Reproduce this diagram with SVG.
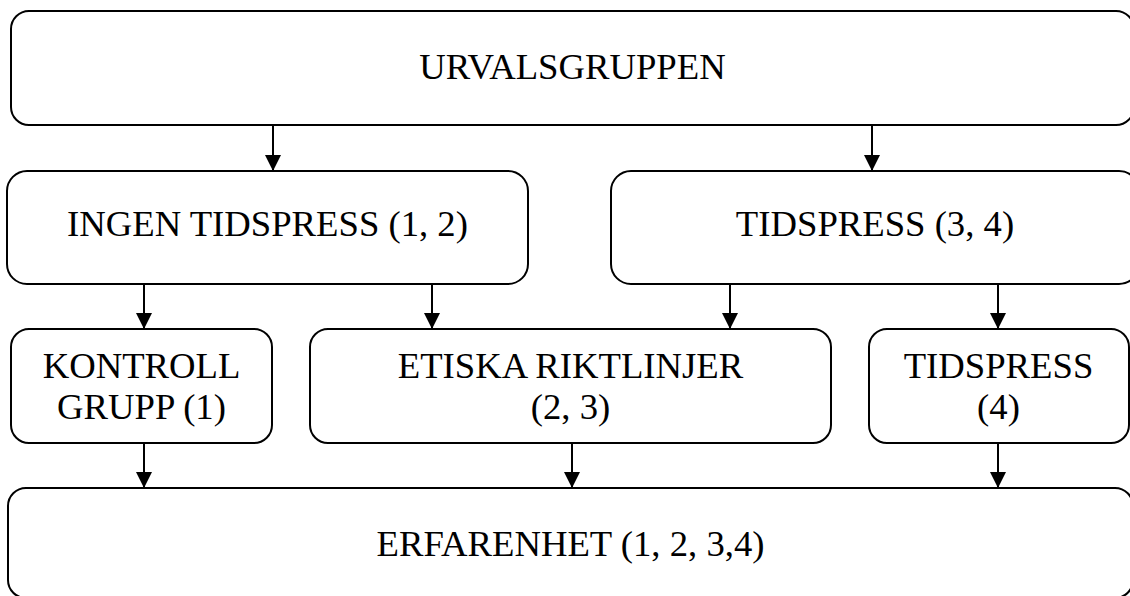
<svg xmlns="http://www.w3.org/2000/svg" width="1130" height="596" viewBox="0 0 1130 596">
  <style>
    .box { fill: #ffffff; stroke: #000000; stroke-width: 2; }
    .label { font-family: "Liberation Serif", "Times New Roman", serif; font-size: 36.7px; fill: #000000; text-anchor: middle; }
    .link { stroke: #000000; stroke-width: 2; fill: none; marker-end: url(#arrow); }
  </style>
  <defs>
    <marker id="arrow" markerWidth="16" markerHeight="16" refX="16" refY="8" orient="auto" markerUnits="userSpaceOnUse">
      <path d="M0,0 L16,8 L0,16 Z" fill="#000000"/>
    </marker>
  </defs>

  <rect width="1130" height="596" fill="#ffffff"/>

  <!-- connectors -->
  <g id="connectors">
    <line class="link" x1="273" y1="125" x2="273" y2="171"/>
    <line class="link" x1="872" y1="125" x2="872" y2="171"/>
    <line class="link" x1="144" y1="284" x2="144" y2="329"/>
    <line class="link" x1="432" y1="284" x2="432" y2="329"/>
    <line class="link" x1="730" y1="284" x2="730" y2="329"/>
    <line class="link" x1="998" y1="284" x2="998" y2="329"/>
    <line class="link" x1="144" y1="443" x2="144" y2="488"/>
    <line class="link" x1="572" y1="443" x2="572" y2="488"/>
    <line class="link" x1="998" y1="443" x2="998" y2="488"/>
  </g>

  <g id="urvalsgruppen">
    <rect class="box" x="11" y="11" width="1123" height="114" rx="18"/>
    <text class="label" x="572.5" y="79">URVALSGRUPPEN</text>
  </g>

  <g id="ingen-tidspress">
    <rect class="box" x="7" y="171" width="521" height="113" rx="20"/>
    <text class="label" x="267.5" y="236">INGEN TIDSPRESS (1, 2)</text>
  </g>

  <g id="tidspress-3-4">
    <rect class="box" x="611" y="171" width="528" height="113" rx="20"/>
    <text class="label" x="875" y="236">TIDSPRESS (3, 4)</text>
  </g>

  <g id="kontrollgrupp">
    <rect class="box" x="11" y="329" width="261" height="114" rx="18"/>
    <text class="label" x="141.5" y="378">KONTROLL</text>
    <text class="label" x="141.5" y="419">GRUPP (1)</text>
  </g>

  <g id="etiska-riktlinjer">
    <rect class="box" x="310" y="329" width="521" height="114" rx="18"/>
    <text class="label" x="570.5" y="378">ETISKA RIKTLINJER</text>
    <text class="label" x="570.5" y="419">(2, 3)</text>
  </g>

  <g id="tidspress-4">
    <rect class="box" x="869" y="329" width="260" height="114" rx="18"/>
    <text class="label" x="998.5" y="378">TIDSPRESS</text>
    <text class="label" x="998.5" y="419">(4)</text>
  </g>

  <g id="erfarenhet">
    <rect class="box" x="8" y="488" width="1125" height="110" rx="18"/>
    <text class="label" x="570.5" y="556">ERFARENHET (1, 2, 3,4)</text>
  </g>
</svg>
